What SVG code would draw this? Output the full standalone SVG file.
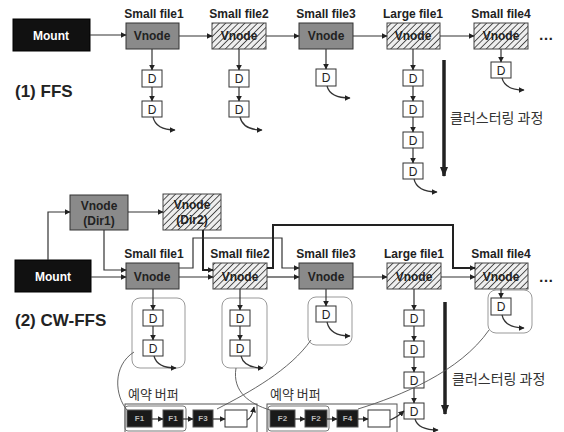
<svg xmlns="http://www.w3.org/2000/svg" width="564" height="432" viewBox="0 0 564 432">
<style>
.lbl{font-family:"Liberation Sans",Arial,sans-serif;font-weight:bold;font-size:12px;fill:#222;text-anchor:middle}
.vt{font-family:"Liberation Sans",Arial,sans-serif;font-weight:bold;font-size:12px;fill:#222;text-anchor:middle}
.mt{font-family:"Liberation Sans",Arial,sans-serif;font-weight:bold;font-size:12px;fill:#fff;text-anchor:middle}
.dt{font-family:"Liberation Sans",Arial,sans-serif;font-size:12px;fill:#222;text-anchor:middle}
.ft{font-family:"Liberation Sans",Arial,sans-serif;font-weight:bold;font-size:8px;fill:#bbb;text-anchor:middle}
.title{font-family:"Liberation Sans",Arial,sans-serif;font-weight:bold;font-size:17px;fill:#222}
.kr{font-family:"Noto Sans CJK KR","Noto Sans",sans-serif;fill:#333}
.grey{fill:#8a8a8a;stroke:#333;stroke-width:1}
.hatch{fill:url(#hp);stroke:#444;stroke-width:1}
.mount{fill:#111;stroke:#000}
.dbox{fill:#fff;stroke:#333;stroke-width:1}
.fbox{fill:#1a1a1a;stroke:#555;stroke-width:1}
.grp{fill:none;stroke:#999;stroke-width:1}
.ca{fill:none;stroke:#333;stroke-width:1.2;marker-end:url(#ah)}
.cb{fill:none;stroke:#222;stroke-width:2;marker-end:url(#ah)}
.thin{fill:none;stroke:#555;stroke-width:0.9}
.big{fill:none;stroke:#222;stroke-width:3.5;marker-end:url(#bh)}
</style>
<defs>
<pattern id="hp" patternUnits="userSpaceOnUse" width="4.5" height="4.5" patternTransform="rotate(45)">
<rect width="4.5" height="4.5" fill="#eee"/>
<line x1="0" y1="0" x2="0" y2="4.5" stroke="#444" stroke-width="1.8"/>
</pattern>
<marker id="ah" viewBox="0 0 10 10" refX="9" refY="5" markerWidth="6" markerHeight="6" markerUnits="userSpaceOnUse" orient="auto">
<path d="M0,0 L10,5 L0,10 z" fill="#222"/>
</marker>
<marker id="bh" viewBox="0 0 10 10" refX="9" refY="5" markerWidth="10" markerHeight="10" markerUnits="userSpaceOnUse" orient="auto">
<path d="M0,1 L10,5 L0,9 z" fill="#222"/>
</marker>
</defs>
<rect width="564" height="432" fill="#fff"/>

<!-- ===== (1) FFS ===== -->
<text class="title" x="15" y="97">(1) FFS</text>
<g id="ffs-mount"><rect class="mount" x="13" y="19" width="77" height="32"/><text class="mt" x="51" y="40">Mount</text></g>
<g id="ffs-sf1"><text class="lbl" x="154" y="18">Small file1</text><rect class="grey" x="126" y="23" width="53" height="26"/><text class="vt" x="152" y="40">Vnode</text></g>
<g id="ffs-sf2"><text class="lbl" x="239" y="18">Small file2</text><rect class="hatch" x="212" y="23" width="54" height="26"/><text class="vt" x="239" y="40">Vnode</text></g>
<g id="ffs-sf3"><text class="lbl" x="326" y="18">Small file3</text><rect class="grey" x="299" y="23" width="54" height="26"/><text class="vt" x="326" y="40">Vnode</text></g>
<g id="ffs-lf1"><text class="lbl" x="413" y="18">Large file1</text><rect class="hatch" x="387" y="23" width="53" height="26"/><text class="vt" x="413" y="40">Vnode</text></g>
<g id="ffs-sf4"><text class="lbl" x="501" y="18">Small file4</text><rect class="hatch" x="474" y="23" width="54" height="26"/><text class="vt" x="501" y="40">Vnode</text></g>
<g id="ffs-dots"><text class="lbl" x="546" y="40" style="font-size:15px">…</text></g>

<g id="ffs-d1"><rect class="dbox" x="142" y="70" width="20" height="17"/><text class="dt" x="152" y="83">D</text><rect class="dbox" x="142" y="101" width="20" height="16"/><text class="dt" x="152" y="114">D</text></g>
<g id="ffs-d2"><rect class="dbox" x="229" y="70" width="20" height="17"/><text class="dt" x="239" y="83">D</text><rect class="dbox" x="229" y="101" width="20" height="16"/><text class="dt" x="239" y="114">D</text></g>
<g id="ffs-d3"><rect class="dbox" x="316" y="69" width="20" height="17"/><text class="dt" x="326" y="82">D</text></g>
<g id="ffs-d4"><rect class="dbox" x="403" y="70" width="20" height="16"/><text class="dt" x="413" y="83">D</text><rect class="dbox" x="403" y="101" width="20" height="16"/><text class="dt" x="413" y="114">D</text><rect class="dbox" x="403" y="132" width="20" height="16"/><text class="dt" x="413" y="145">D</text><rect class="dbox" x="403" y="163" width="20" height="16"/><text class="dt" x="413" y="176">D</text></g>
<g id="ffs-d5"><rect class="dbox" x="491" y="62" width="20" height="16"/><text class="dt" x="501" y="75">D</text></g>
<g id="ffs-cluster"><text class="kr" x="450" y="123" font-size="14">클러스터링 과정</text></g>

<g id="ffs-connectors">
<path class="ca" d="M90,35 H126"/>
<path class="ca" d="M179,36 H212"/>
<path class="ca" d="M266,36 H299"/>
<path class="ca" d="M353,36 H387"/>
<path class="ca" d="M440,36 H474"/>
<path class="ca" d="M152,49 V70"/><path class="ca" d="M152,87 V101"/><path class="ca" d="M153,117 Q156,130 175,130"/>
<path class="ca" d="M239,49 V70"/><path class="ca" d="M239,87 V101"/><path class="ca" d="M240,117 Q243,130 262,130"/>
<path class="ca" d="M326,49 V69"/><path class="ca" d="M327,86 Q330,98 350,98"/>
<path class="ca" d="M413,49 V70"/><path class="ca" d="M413,86 V101"/><path class="ca" d="M413,117 V132"/><path class="ca" d="M413,148 V163"/><path class="ca" d="M414,179 Q417,192 437,192"/>
<path class="ca" d="M501,49 V62"/><path class="ca" d="M502,78 Q505,90 524,90"/>
<path class="big" d="M444,60 V176"/>
</g>

<!-- ===== (2) CW-FFS ===== -->
<text class="title" x="15" y="326">(2) CW-FFS</text>
<g id="cw-dir1"><rect class="grey" x="70" y="195" width="58" height="35"/><text class="vt" x="99" y="210">Vnode</text><text class="vt" x="99" y="225">(Dir1)</text></g>
<g id="cw-dir2"><rect class="hatch" x="163" y="194" width="58" height="36"/><text class="vt" x="192" y="209">Vnode</text><text class="vt" x="192" y="224">(Dir2)</text></g>
<g id="cw-mount"><rect class="mount" x="15" y="260" width="76" height="32"/><text class="mt" x="53" y="281">Mount</text></g>
<g id="cw-sf1"><text class="lbl" x="154" y="258">Small file1</text><rect class="grey" x="126" y="263" width="53" height="26"/><text class="vt" x="152" y="281">Vnode</text></g>
<g id="cw-sf2"><text class="lbl" x="240" y="258">Small file2</text><rect class="hatch" x="213" y="263" width="54" height="26"/><text class="vt" x="240" y="281">Vnode</text></g>
<g id="cw-sf3"><text class="lbl" x="326" y="258">Small file3</text><rect class="grey" x="299" y="263" width="54" height="26"/><text class="vt" x="326" y="281">Vnode</text></g>
<g id="cw-lf1"><text class="lbl" x="414" y="258">Large file1</text><rect class="hatch" x="387" y="263" width="54" height="26"/><text class="vt" x="414" y="281">Vnode</text></g>
<g id="cw-sf4"><text class="lbl" x="501" y="258">Small file4</text><rect class="hatch" x="475" y="263" width="53" height="26"/><text class="vt" x="501" y="281">Vnode</text></g>
<g id="cw-dots"><text class="lbl" x="546" y="282" style="font-size:15px">…</text></g>

<g id="cw-g1"><rect class="grp" x="132" y="298" width="53" height="70" rx="8"/><rect class="dbox" x="143" y="310" width="20" height="16"/><text class="dt" x="153" y="323">D</text><rect class="dbox" x="143" y="340" width="20" height="16"/><text class="dt" x="153" y="353">D</text></g>
<g id="cw-g2"><rect class="grp" x="222" y="298" width="45" height="70" rx="8"/><rect class="dbox" x="230" y="310" width="20" height="16"/><text class="dt" x="240" y="323">D</text><rect class="dbox" x="230" y="340" width="20" height="16"/><text class="dt" x="240" y="353">D</text></g>
<g id="cw-g3"><rect class="grp" x="308" y="297" width="44" height="48" rx="8"/><rect class="dbox" x="316" y="306" width="20" height="16"/><text class="dt" x="326" y="319">D</text></g>
<g id="cw-g4"><rect class="dbox" x="404" y="310" width="20" height="16"/><text class="dt" x="414" y="323">D</text><rect class="dbox" x="404" y="341" width="20" height="16"/><text class="dt" x="414" y="354">D</text><rect class="dbox" x="404" y="372" width="20" height="16"/><text class="dt" x="414" y="385">D</text><rect class="dbox" x="404" y="403" width="20" height="16"/><text class="dt" x="414" y="416">D</text></g>
<g id="cw-g5"><rect class="grp" x="488" y="290" width="44" height="43" rx="8"/><rect class="dbox" x="491" y="298" width="20" height="17"/><text class="dt" x="501" y="311">D</text></g>
<g id="cw-cluster"><text class="kr" x="452" y="384" font-size="14">클러스터링 과정</text></g>

<g id="cw-buf1">
<text class="kr" x="128" y="399" font-size="13">예약 버퍼</text>
<rect fill="none" stroke="#555" stroke-width="1" x="125" y="404" width="132" height="30"/>
<rect fill="none" stroke="#777" stroke-width="1" x="125" y="406" width="61" height="25" rx="3"/>
<rect class="fbox" x="127" y="410" width="25" height="17"/><text class="ft" x="139.5" y="421">F1</text>
<rect class="fbox" x="163" y="410" width="20" height="17"/><text class="ft" x="173" y="421">F1</text>
<rect class="fbox" x="193" y="410" width="20" height="17"/><text class="ft" x="203" y="421">F3</text>
<rect class="dbox" x="225" y="410" width="22" height="17"/>
</g>
<g id="cw-buf2">
<text class="kr" x="270" y="399" font-size="13">예약 버퍼</text>
<rect fill="none" stroke="#555" stroke-width="1" x="267" y="404" width="130" height="30"/>
<rect fill="none" stroke="#777" stroke-width="1" x="268" y="406" width="61" height="25" rx="3"/>
<rect class="fbox" x="270" y="410" width="25" height="17"/><text class="ft" x="282.5" y="421">F2</text>
<rect class="fbox" x="305" y="410" width="22" height="17"/><text class="ft" x="316" y="421">F2</text>
<rect class="fbox" x="337" y="410" width="21" height="17"/><text class="ft" x="347.5" y="421">F4</text>
<rect class="dbox" x="368" y="410" width="22" height="17"/>
</g>

<g id="cw-connectors">
<path class="ca" d="M48,260 V212 H70"/>
<path class="ca" d="M128,212 H163"/>
<path class="ca" d="M104,230 V270 H126"/>
<path class="cb" d="M203,230 V270 H213"/>
<path class="ca" d="M91,277 H126"/>
<path class="ca" d="M179,277 H213"/>
<path class="ca" d="M267,277 H299"/>
<path class="ca" d="M353,277 H387"/>
<path class="ca" d="M441,277 H475"/>
<path class="ca" d="M179,268 H193 V238 H282 V268 H299"/>
<path class="cb" d="M267,268 H273 V225 H453 V268 H475"/>
<path class="ca" d="M153,289 V310"/><path class="ca" d="M153,326 V340"/><path class="ca" d="M154,356 Q157,368 176,368"/>
<path class="ca" d="M240,289 V310"/><path class="ca" d="M240,326 V340"/><path class="ca" d="M241,356 Q244,368 263,368"/>
<path class="ca" d="M326,289 V306"/><path class="ca" d="M327,322 Q330,336 350,336"/>
<path class="ca" d="M414,289 V310"/><path class="ca" d="M414,326 V341"/><path class="ca" d="M414,357 V372"/><path class="ca" d="M414,388 V403"/><path class="ca" d="M415,419 Q418,430 438,430"/>
<path class="ca" d="M501,289 V298"/><path class="ca" d="M502,315 Q505,328 524,328"/>
<path class="big" d="M445,302 V414"/>
<path class="thin" d="M134,352 C112,366 115,396 127,410"/>
<path class="thin" d="M236,368 C232,392 250,404 270,410"/>
<path class="thin" d="M311,340 C290,370 250,392 217,409"/>
<path class="thin" d="M489,330 C460,372 400,396 358,409"/>
<path class="ca" d="M152,419 H163"/><path class="ca" d="M183,419 H193"/><path class="ca" d="M213,419 H225"/>
<path class="ca" d="M295,419 H305"/><path class="ca" d="M327,419 H337"/><path class="ca" d="M358,419 H368"/>
<path class="ca" d="M247,420 Q252,418 254,407"/>
<path class="ca" d="M390,420 Q396,418 404,411"/>
</g>
</svg>
